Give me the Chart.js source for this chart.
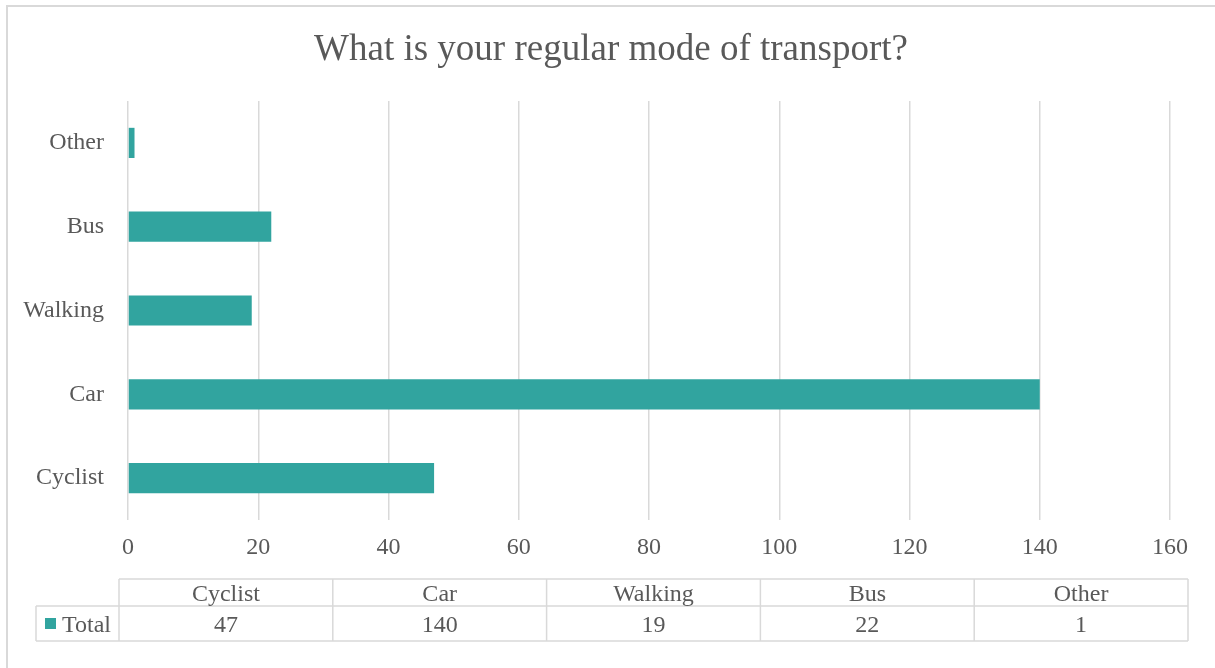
<!DOCTYPE html>
<html>
<head>
<meta charset="utf-8">
<script src="https://cdn.jsdelivr.net/npm/chart.js@4/dist/chart.umd.min.js"></script>
<style>
  html, body { margin: 0; padding: 0; background: #fff; }
  #wrap { width: 1215px; height: 668px; position: relative; }
</style>
</head>
<body>
<div id="wrap"><canvas id="chart" width="1215" height="668"></canvas></div>
<script>
// donnees
const categories = ['Cyclist', 'Car', 'Walking', 'Bus', 'Other'];
const totals = [47, 140, 19, 22, 1];
const seriesName = 'Total';
const chartTitle = 'What is your regular mode of transport?';
const xTicks = [0, 20, 40, 60, 80, 100, 120, 140, 160];

const teal = '#31A49F';
const grey = '#595959';
const lineGrey = '#D9D9D9';
const serif = "'Liberation Serif', 'Times New Roman', serif";

// cadre exterieur, titre et tableau de donnees sous le graphique
const tablePlugin = {
    id: 'dataTable',
    afterDraw(chart) {
        const ctx = chart.ctx;
        ctx.save();
        ctx.strokeStyle = lineGrey;
        ctx.lineWidth = 2;
        ctx.strokeRect(7, 6, 1215, 680);

        ctx.fillStyle = grey;
        ctx.font = '37px ' + serif;
        ctx.textAlign = 'center';
        ctx.textBaseline = 'middle';
        ctx.fillText(chartTitle, 611, 50);

        const left = 36, keyRight = 119, right = 1188;
        const top = 579, mid = 606, bottom = 641;
        const colW = (right - keyRight) / categories.length;

        ctx.lineWidth = 1.5;
        ctx.beginPath();
        ctx.moveTo(keyRight, top); ctx.lineTo(right, top);
        ctx.moveTo(left, mid); ctx.lineTo(right, mid);
        ctx.moveTo(left, bottom); ctx.lineTo(right, bottom);
        ctx.moveTo(left, mid); ctx.lineTo(left, bottom);
        for (let i = 0; i <= categories.length; i++) {
            const x = keyRight + i * colW;
            ctx.moveTo(x, top); ctx.lineTo(x, bottom);
        }
        ctx.stroke();

        ctx.font = '24px ' + serif;
        categories.forEach((c, i) => {
            const cx = keyRight + (i + 0.5) * colW;
            ctx.fillText(c, cx, (top + mid) / 2 + 2);
            ctx.fillText(String(totals[i]), cx, (mid + bottom) / 2 + 2);
        });

        ctx.fillStyle = teal;
        ctx.fillRect(45, 618, 11, 11);
        ctx.fillStyle = grey;
        ctx.textAlign = 'left';
        ctx.fillText(seriesName, 62, (mid + bottom) / 2 + 2);
        ctx.restore();
    }
};

// le graphique se lit de bas en haut : Cyclist en bas, Other en haut
new Chart(document.getElementById('chart'), {
    type: 'bar',
    data: {
        labels: categories,
        datasets: [{
            label: seriesName,
            data: totals,
            backgroundColor: teal,
            borderWidth: 0,
            barPercentage: 0.36,
            categoryPercentage: 1
        }]
    },
    options: {
        indexAxis: 'y',
        responsive: false,
        animation: false,
        layout: { padding: { top: 101, left: 0, right: 45, bottom: 107 } },
        plugins: {
            legend: { display: false },
            tooltip: { enabled: false },
            title: { display: false }
        },
        scales: {
            x: {
                min: 0,
                max: 160,
                afterBuildTicks: axis => { axis.ticks = xTicks.map(v => ({ value: v })); },
                afterFit: scale => { scale.height = 41; },
                grid: { color: lineGrey, lineWidth: 1.5, drawTicks: false },
                border: { display: false },
                ticks: { color: grey, padding: 13, font: { family: serif, size: 24 } }
            },
            y: {
                reverse: true,
                afterFit: scale => { scale.width = 128; },
                grid: { display: false },
                border: { display: false },
                ticks: { color: grey, padding: 16, font: { family: serif, size: 24 } }
            }
        }
    },
    plugins: [tablePlugin]
});
</script>
</body>
</html>
